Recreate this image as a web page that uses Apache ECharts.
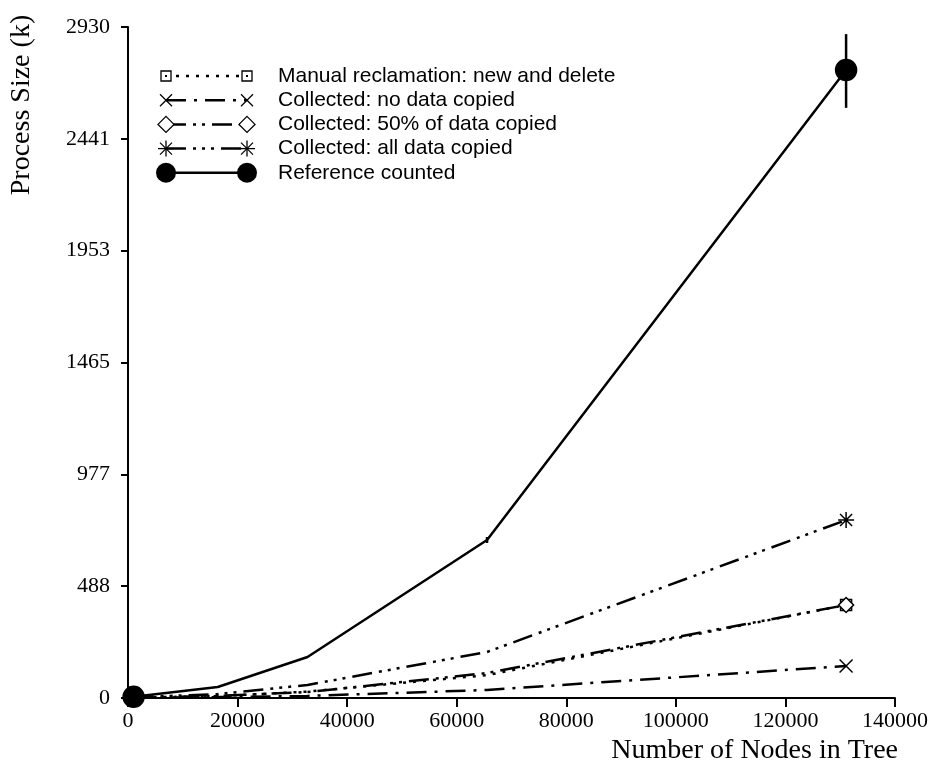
<!DOCTYPE html>
<html>
<head>
<meta charset="utf-8">
<script src="https://cdn.jsdelivr.net/npm/echarts@6/dist/echarts.min.js"></script>
<style>html,body{margin:0;padding:0;background:#fff;}#c{width:940px;height:777px;}</style>
</head>
<body>
<div id="c"></div>
<script>
// ---- data ----
const nodes = [1024, 16384, 32768, 65536, 131072];
const manual = [2, 8, 28, 100, 406];
const noCopy = [1, 4, 9, 35, 140];
const halfCopy = [2, 9, 26, 109, 406];
const allCopy = [3, 17, 57, 201, 777];
const refCounted = [5, 48, 179, 690, 2742];
const errNodes = [65536, 131072];
const errLow = [677, 2577];
const errHigh = [703, 2899];
const yTickLabels = ['0', '488', '977', '1465', '1953', '2441', '2930'];
const seriesNames = [
  'Manual reclamation: new and delete',
  'Collected: no data copied',
  'Collected: 50% of data copied',
  'Collected: all data copied',
  'Reference counted'
];

const yMax = 2930;
const yStep = yMax / 6;

const SYM_CROSS = 'path://M-6,-6L6,6M-6,6L6,-6';
const SYM_STAR = 'path://M0,-8L0,8M-8,0L8,0M-6,-6L6,6M-6,6L6,-6';

const styles = [
  {dash: [3, 7], symbol: 'rect', size: 11, fill: '#fff'},
  {dash: [20, 8, 3, 8], symbol: SYM_CROSS, size: 13, fill: 'none'},
  {dash: [20, 7, 3, 6, 3, 7], symbol: 'diamond', size: 15, fill: '#fff'},
  {dash: [20, 7, 3, 6, 3, 6, 3, 7], symbol: SYM_STAR, size: 16, fill: 'none'},
  {dash: 'solid', symbol: 'circle', size: 21, fill: '#000'}
];
const values = [manual, noCopy, halfCopy, allCopy, refCounted];

function mkData(arr, sym) {
  return nodes.map((x, i) => ({
    value: [x, arr[i]],
    symbol: (i === 0 || i === nodes.length - 1) ? sym : 'none'
  }));
}

const series = values.map((arr, k) => ({
  name: seriesNames[k],
  type: 'line',
  data: mkData(arr, styles[k].symbol),
  symbolSize: styles[k].size,
  showAllSymbol: true,
  lineStyle: {color: '#000', width: 2.5, type: styles[k].dash},
  itemStyle: {color: styles[k].fill, borderColor: '#000', borderWidth: 1.5},
  z: k === 4 ? 5 : 3,
  animation: false
}));

series.push({
  type: 'custom',
  data: errNodes.map((x, i) => [x, errLow[i], errHigh[i]]),
  renderItem: function (params, api) {
    const p1 = api.coord([api.value(0), api.value(1)]);
    const p2 = api.coord([api.value(0), api.value(2)]);
    return {type: 'line', shape: {x1: p1[0], y1: p1[1], x2: p2[0], y2: p2[1]},
      style: {stroke: '#000', lineWidth: 2.5}};
  },
  z: 6,
  animation: false
});

// ---- legend (graphic) ----
const legendGraphics = [];
const lx1 = 166, lx2 = 247, rowY0 = 76, rowGap = 24.2;
function symGraphic(k, cx, cy) {
  if (k === 0) return [
    {type: 'rect', shape: {x: cx - 5, y: cy - 5, width: 10, height: 10}, style: {fill: '#fff', stroke: '#000', lineWidth: 1.3}, z: 10},
    {type: 'rect', shape: {x: cx - 1, y: cy - 1, width: 2, height: 2}, style: {fill: '#000'}, z: 11}
  ];
  if (k === 1) return [
    {type: 'polyline', shape: {points: [[cx - 6, cy - 6], [cx + 6, cy + 6]]}, style: {stroke: '#000', lineWidth: 1.3}, z: 10},
    {type: 'polyline', shape: {points: [[cx - 6, cy + 6], [cx + 6, cy - 6]]}, style: {stroke: '#000', lineWidth: 1.3}, z: 10}
  ];
  if (k === 2) return [
    {type: 'polygon', shape: {points: [[cx, cy - 8], [cx + 8, cy], [cx, cy + 8], [cx - 8, cy]]}, style: {fill: '#fff', stroke: '#000', lineWidth: 1.3}, z: 10}
  ];
  if (k === 3) return [
    {type: 'polyline', shape: {points: [[cx, cy - 8], [cx, cy + 8]]}, style: {stroke: '#000', lineWidth: 1.3}, z: 10},
    {type: 'polyline', shape: {points: [[cx - 8, cy], [cx + 8, cy]]}, style: {stroke: '#000', lineWidth: 1.3}, z: 10},
    {type: 'polyline', shape: {points: [[cx - 6, cy - 6], [cx + 6, cy + 6]]}, style: {stroke: '#000', lineWidth: 1.3}, z: 10},
    {type: 'polyline', shape: {points: [[cx - 6, cy + 6], [cx + 6, cy - 6]]}, style: {stroke: '#000', lineWidth: 1.3}, z: 10}
  ];
  return [{type: 'circle', shape: {cx: cx, cy: cy, r: 10}, style: {fill: '#000'}, z: 10}];
}
seriesNames.forEach((name, k) => {
  const y = rowY0 + k * rowGap;
  legendGraphics.push({
    type: 'line', shape: {x1: lx1, y1: y, x2: lx2, y2: y},
    style: {stroke: '#000', lineWidth: 2.5, lineDash: styles[k].dash === 'solid' ? null : styles[k].dash}, z: 9
  });
  symGraphic(k, lx1, y).forEach(g => legendGraphics.push(g));
  symGraphic(k, lx2, y).forEach(g => legendGraphics.push(g));
  legendGraphics.push({
    type: 'text', x: 278, y: y,
    style: {text: name, font: '21px "Liberation Sans", Arial, sans-serif', fill: '#000', textVerticalAlign: 'middle', textAlign: 'left'},
    z: 10
  });
});
legendGraphics.push({
  type: 'text', x: 22, y: 105, rotation: Math.PI / 2,
  style: {text: 'Process Size (k)', font: '28px "Liberation Serif", "Times New Roman", serif', fill: '#000', textAlign: 'center', textVerticalAlign: 'middle'}
});
legendGraphics.push({
  type: 'text', x: 898, y: 751,
  style: {text: 'Number of Nodes in Tree', font: '28px "Liberation Serif", "Times New Roman", serif', fill: '#000', textAlign: 'right', textVerticalAlign: 'middle'}
});

const chart = echarts.init(document.getElementById('c'), null, {renderer: 'canvas'});
chart.setOption({
  animation: false,
  backgroundColor: '#fff',
  grid: {left: 128, right: 45, top: 27, bottom: 79, containLabel: false},
  xAxis: {
    type: 'value', min: 0, max: 140000, interval: 20000,
    axisLine: {show: true, onZero: false, lineStyle: {color: '#000', width: 2}},
    axisTick: {show: true, inside: false, length: 9, lineStyle: {color: '#000', width: 2}},
    axisLabel: {color: '#000', fontFamily: '"Liberation Serif", "Times New Roman", serif', fontSize: 22, margin: 12,
      formatter: v => String(v)},
    splitLine: {show: false}
  },
  yAxis: {
    type: 'value', min: 0, max: yMax, interval: yStep,
    axisLine: {show: true, onZero: false, lineStyle: {color: '#000', width: 2}},
    axisTick: {show: true, inside: false, length: 7, lineStyle: {color: '#000', width: 2}},
    axisLabel: {
      color: '#000', fontFamily: '"Liberation Serif", "Times New Roman", serif', fontSize: 22, margin: 18,
      formatter: v => yTickLabels[Math.round(v / yStep)]
    },
    splitLine: {show: false}
  },
  graphic: legendGraphics,
  series: series
});
</script>
</body>
</html>
